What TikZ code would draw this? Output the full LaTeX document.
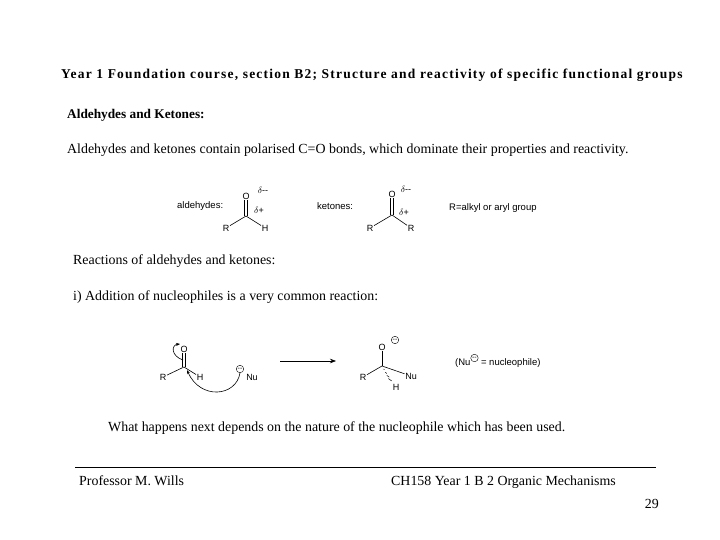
\documentclass[tikz,border=0pt]{standalone}
\usepackage{fontspec}
\setmainfont{Liberation Serif}
\newfontfamily\chemf{Liberation Sans}
\newfontfamily\titlef[LetterSpace=9]{Liberation Serif}
\usetikzlibrary{arrows.meta,calc}
\begin{document}
\begin{tikzpicture}[x=1pt,y=-1pt,
  txt/.style={anchor=base west,inner sep=0pt,font=\fontsize{13.9}{15}\selectfont},
  atm/.style={inner sep=0.5pt,font=\chemf\fontsize{9}{10}\selectfont},
  lbl/.style={anchor=west,inner sep=0pt,font=\chemf\fontsize{9.5}{11}\selectfont},
  bnd/.style={line width=0.6pt},
  mcirc/.style={circle,draw,inner sep=0pt,minimum size=7.5pt,font=\chemf\fontsize{7}{7}\selectfont}]
\useasboundingbox (0,0) rectangle (720,540);
\node[txt,font=\titlef\bfseries\fontsize{13.5}{15}\selectfont] (title) at (61,79) {Year 1 Foundation course, section B2; Structure and reactivity of specific functional groups};
\node[txt,font=\bfseries\fontsize{13.3}{15}\selectfont] (h1) at (67,119) {Aldehydes and Ketones:};
\node[txt] (p1) at (67,154) {Aldehydes and ketones contain polarised C=O bonds, which dominate their properties and reactivity.};
% aldehyde
\node[lbl] (al) at (177,206) {aldehydes:};
\node[atm] (aO) at (246,196) {O};
\coordinate (aC) at (246,216);
\node[atm] (aR) at (226,228) {R};
\node[atm] (aH) at (265,228) {H};
\draw[bnd] ([xshift=-1.3pt]aO.south) -- ([xshift=-1.3pt]aC);
\draw[bnd] ([xshift=1.3pt]aO.south) -- ([xshift=1.3pt]aC);
\draw[bnd] (aR) -- (aC) -- (aH);
\node[atm] (adm) at (263,190) {$\delta$--};
\node[atm] (adp) at (259,210) {$\delta$+};
% ketone
\node[lbl] (kl) at (317,206) {ketones:};
\node[atm] (kO) at (392,194) {O};
\coordinate (kC) at (392,215);
\node[atm] (kR1) at (370,228) {R};
\node[atm] (kR2) at (411,228) {R};
\draw[bnd] ([xshift=-1.3pt]kO.south) -- ([xshift=-1.3pt]kC);
\draw[bnd] ([xshift=1.3pt]kO.south) -- ([xshift=1.3pt]kC);
\draw[bnd] (kR1) -- (kC) -- (kR2);
\node[atm] (kdm) at (406,189) {$\delta$--};
\node[atm] (kdp) at (404,212) {$\delta$+};
\node[lbl] (rdef) at (449,208) {R=alkyl or aryl group};
% reactions text
\node[txt] (p2) at (73,264) {Reactions of aldehydes and ketones:};
\node[txt] (p3) at (73,300) {i) Addition of nucleophiles is a very common reaction:};
% reactant
\node[atm] (rO) at (184,349) {O};
\coordinate (rC) at (184,367);
\node[atm] (rR) at (163,377) {R};
\node[atm] (rH) at (200,377) {H};
\draw[bnd] ([xshift=-1.3pt]rO.south) -- ([xshift=-1.3pt]rC);
\draw[bnd] ([xshift=1.3pt]rO.south) -- ([xshift=1.3pt]rC);
\draw[bnd] (rR) -- (rC) -- (rH);
\coordinate (cs) at (183,360);
\coordinate (ce) at (180,344);
\draw[bnd,-{Stealth[length=4pt]}] (cs) .. controls (171,356) and (171,345) .. (ce);
\node[atm] (nu) at (252,377) {Nu};
\node[mcirc] (nm) at (240,369) {--};
\coordinate (ae) at (187,370);
\draw[bnd,-{Stealth[length=4pt]}] (nm.south) .. controls (236,397) and (200,400) .. (ae);
% arrow
\coordinate (ra1) at (280,361);
\coordinate (ra2) at (336,361);
\draw[bnd,-{Stealth[length=6pt]}] (ra1) -- (ra2);
% product
\node[atm] (pO) at (382,347) {O};
\node[mcirc] (pm) at (395,340) {--};
\coordinate (pC) at (382,366);
\node[atm] (pR) at (363,377) {R};
\node[atm] (pNu) at (411,376) {Nu};
\node[atm] (pH) at (396,387) {H};
\draw[bnd] (pO) -- (pC);
\draw[bnd] (pR) -- (pC) -- (pNu);
\foreach \t in {0.2,0.4,0.6,0.8}{
  \draw[line width=0.5pt] ($(pC)!\t!(pH.north west)$) ++(-\t*2pt,\t*1.5pt) -- ++(\t*4pt,-\t*3pt);}
\node[lbl] (nd) at (455,361) {(Nu\raisebox{4pt}{\tikz\node[circle,draw,inner sep=0pt,minimum size=7.5pt,font=\fontsize{7}{7}\selectfont]{--};} = nucleophile)};
\node[txt] (p4) at (108,431) {What happens next depends on the nature of the nucleophile which has been used.};
% footer
\coordinate (f1) at (75,467);
\coordinate (f2) at (656,467);
\draw[line width=0.6pt] (f1) -- (f2);
\node[txt] (fa) at (79,485) {Professor M. Wills};
\node[txt] (fb) at (391,485) {CH158 Year 1 B 2 Organic Mechanisms};
\node[txt,anchor=base east] (pg) at (659,508) {29};
\end{tikzpicture}
\end{document}
